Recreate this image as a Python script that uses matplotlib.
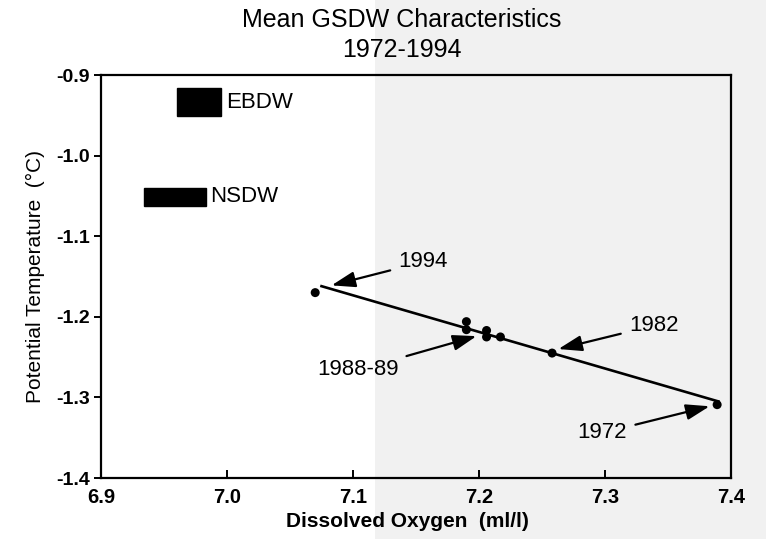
import matplotlib
matplotlib.use("Agg")
import matplotlib.pyplot as plt
from matplotlib.patches import Rectangle

plt.rcParams['font.family'] = ['Liberation Sans', 'DejaVu Sans']

# Annual mean GSDW characteristics
oxygen = [7.07, 7.19, 7.19, 7.206, 7.206, 7.217, 7.258, 7.389]
temperature = [-1.170, -1.206, -1.216, -1.217, -1.225, -1.225, -1.245, -1.309]

# Trend line end points
trend_x = [7.075, 7.39]
trend_y = [-1.162, -1.305]

# Source water mass ranges: (oxygen min, oxygen max, temp min, temp max)
water_masses = ["EBDW", "NSDW"]
mass_oxygen = [(6.960, 6.995), (6.934, 6.983)]
mass_temp = [(-0.951, -0.916), (-1.062, -1.040)]

# Year annotations: label, text position, arrow tip
year_labels = ["1994", "1988-89", "1982", "1972"]
label_pos = [(7.136, -1.132), (7.136, -1.266), (7.319, -1.211), (7.298, -1.344)]
arrow_tip = [(7.083, -1.161), (7.198, -1.224), (7.263, -1.240), (7.383, -1.311)]
label_ha = ["left", "right", "left", "center"]

x_ticks = [6.9, 7.0, 7.1, 7.2, 7.3, 7.4]
y_ticks = [-0.9, -1.0, -1.1, -1.2, -1.3, -1.4]

fig = plt.figure(figsize=(7.66, 5.39), dpi=100)
fig.patch.set_facecolor("white")
# light paper tone on the right part of the page
fig.add_artist(Rectangle((375 / 766, 0), 1 - 375 / 766, 1, transform=fig.transFigure,
                         facecolor="#f1f1f1", edgecolor="none", zorder=-10))

ax = fig.add_axes([101 / 766, 61 / 539, 630 / 766, 403 / 539])
ax.set_facecolor("none")
ax.set_xlim(6.9, 7.4)
ax.set_ylim(-1.4, -0.9)

ax.plot(trend_x, trend_y, color="black", lw=1.9, zorder=3)
ax.scatter(oxygen, temperature, s=42, color="black", zorder=4, edgecolors="none")

for name, (o0, o1), (t0, t1) in zip(water_masses, mass_oxygen, mass_temp):
    ax.add_patch(Rectangle((o0, t0), o1 - o0, t1 - t0, facecolor="black",
                           edgecolor="black", zorder=3))
    ax.text(o1 + 0.004, (t0 + t1) / 2, name, fontsize=16, va="center", ha="left")

for lab, (tx, ty), (ax_, ay), ha in zip(year_labels, label_pos, arrow_tip, label_ha):
    ax.annotate(lab, xy=(ax_, ay), xytext=(tx, ty), fontsize=16, ha=ha, va="center",
                arrowprops=dict(arrowstyle="-|>,head_length=0.9,head_width=0.3",
                                color="black", lw=1.6, shrinkA=4, shrinkB=0))

ax.set_xticks(x_ticks)
ax.set_xticklabels([f"{v:.1f}" for v in x_ticks])
ax.set_yticks(y_ticks)
ax.set_yticklabels([f"{v:.1f}" for v in y_ticks])
ax.tick_params(axis="x", direction="in", length=6, width=1.4, labelsize=14.5, pad=7)
ax.tick_params(axis="y", direction="out", length=5, width=1.4, labelsize=14, pad=3)
for lbl in ax.get_xticklabels() + ax.get_yticklabels():
    lbl.set_fontweight("bold")
for s in ax.spines.values():
    s.set_linewidth(1.6)

ax.set_xlabel("Dissolved Oxygen  (ml/l)", fontsize=15, fontweight="bold")
ax.xaxis.set_label_coords(0.486, -0.085)
ax.set_ylabel("Potential Temperature  (°C)", fontsize=15, labelpad=8)

fig.text(402 / 766, 1 - 20 / 539, "Mean GSDW Characteristics", fontsize=18,
         ha="center", va="center")
fig.text(402 / 766, 1 - 50 / 539, "1972-1994", fontsize=18, ha="center", va="center")

fig.savefig("out.png", dpi=100)
